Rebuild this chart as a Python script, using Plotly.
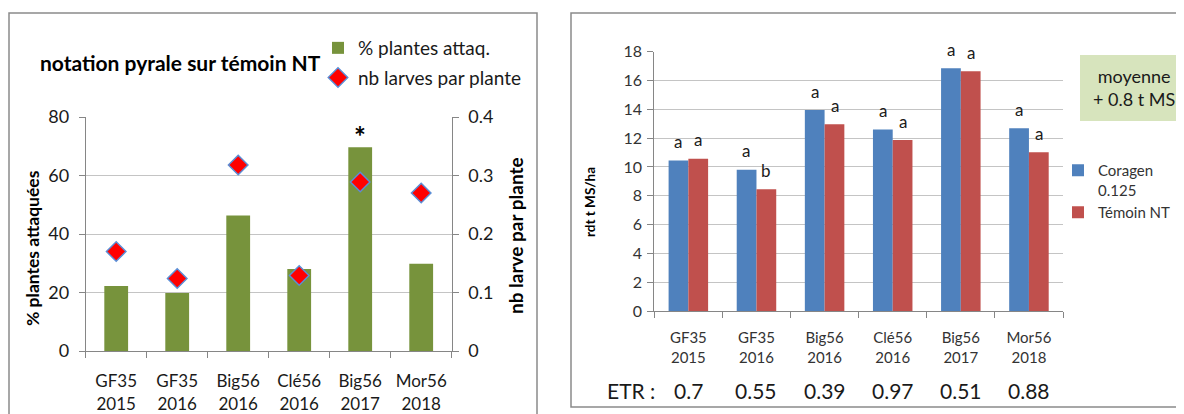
import plotly.graph_objects as go

# data
categories = ["GF35<br>2015", "GF35<br>2016", "Big56<br>2016", "Clé56<br>2016", "Big56<br>2017", "Mor56<br>2018"]
pct_attacked = [22.2, 19.8, 46.3, 28.0, 69.7, 29.8]
larvae_per_plant = [0.17, 0.124, 0.318, 0.129, 0.289, 0.27]
coragen = [10.45, 9.8, 13.95, 12.6, 16.85, 12.68]
temoin = [10.57, 8.45, 12.96, 11.87, 16.64, 11.02]
letters_coragen = ["a", "a", "a", "a", "a", "a"]
letters_temoin = ["a", "b", "a", "a", "a", "a"]
etr = ["0.7", "0.55", "0.39", "0.97", "0.51", "0.88"]

W, H = 1184, 414
FONT = "Lato"
OFF = 8  # the page body has an 8px margin, so place everything relative to the window


def px(x):
    return (x - OFF) / W


def py(y):
    return 1 - (y - OFF) / H


fig = go.Figure()

# left chart: % attacked plants (bars) + larvae per plant (diamonds)
fig.add_trace(go.Bar(x=categories, y=pct_attacked, name="% plantes attaq.",
                     marker=dict(color="#77933C", line=dict(width=0)), width=0.39,
                     xaxis="x", yaxis="y", legend="legend", legendgroup="g1"))
fig.add_trace(go.Scatter(x=categories, y=larvae_per_plant, name="nb larves par plante",
                         mode="markers",
                         marker=dict(symbol="diamond", size=15, color="#FF0000",
                                     line=dict(color="#5B8ED6", width=1.5)),
                         xaxis="x", yaxis="y2", legend="legend", legendgroup="g2"))

# right chart: yield
fig.add_trace(go.Bar(x=categories, y=coragen, name="Coragen<br>0.125",
                     marker=dict(color="#4F81BD", line=dict(width=0)), width=0.29, offset=-0.29,
                     xaxis="x2", yaxis="y3", legend="legend2", legendgroup="g3"))
fig.add_trace(go.Bar(x=categories, y=temoin, name="Témoin NT",
                     marker=dict(color="#C0504D", line=dict(width=0)), width=0.29, offset=0,
                     xaxis="x2", yaxis="y3", legend="legend2", legendgroup="g4"))

axis_col = "#868686"
grid_col = "#C4C4C4"


def note(**kw):
    d = dict(showarrow=False, xanchor="center", yanchor="middle")
    d.update(kw)
    return d


annotations = []
for i, cat in enumerate(categories):
    annotations.append(note(x=cat, y=coragen[i], xref="x2", yref="y3", text=letters_coragen[i],
                            xshift=-10, yshift=19, font=dict(size=17, color="#1a1a1a", family=FONT)))
    annotations.append(note(x=cat, y=temoin[i], xref="x2", yref="y3", text=letters_temoin[i],
                            xshift=10, yshift=19, font=dict(size=17, color="#1a1a1a", family=FONT)))
    annotations.append(note(x=cat, y=py(390), xref="x2", yref="paper", text=etr[i],
                            font=dict(size=21, color="#1a1a1a", family=FONT)))

annotations += [
    note(x=px(38), y=py(62), xref="paper", yref="paper", xanchor="left",
         text="<b>notation pyrale sur témoin NT</b>", font=dict(size=21, color="#000", family=FONT)),
    note(x=categories[4], y=pct_attacked[4], xref="x", yref="y", text="<b>*</b>",
         yshift=11, font=dict(size=28, color="#000", family=FONT)),
    note(x=px(32), y=py(248), xref="paper", yref="paper", text="<b>% plantes attaquées</b>", textangle=-90,
         font=dict(size=17.5, color="#000", family=FONT)),
    note(x=px(515), y=py(236), xref="paper", yref="paper", text="<b>nb larve par plante</b>", textangle=-90,
         font=dict(size=19, color="#000", family=FONT)),
    note(x=px(590), y=py(202), xref="paper", yref="paper", text="<b>rdt t MS/ha</b>", textangle=-90,
         font=dict(size=13.5, color="#000", family=FONT)),
    note(x=px(605), y=py(390), xref="paper", yref="paper", xanchor="left", text="ETR :",
         font=dict(size=21, color="#1a1a1a", family=FONT)),
    note(x=px(1134), y=py(88), xref="paper", yref="paper", text="moyenne<br>+ 0.8 t MS",
         font=dict(size=18, color="#1a1a1a", family=FONT)),
]

shapes = [
    dict(type="rect", xref="paper", yref="paper", x0=px(9), x1=px(537), y0=-0.2, y1=py(13),
         line=dict(color="#8A8A8A", width=1.5), fillcolor="rgba(0,0,0,0)", layer="below"),
    dict(type="rect", xref="paper", yref="paper", x0=px(571), x1=1.1, y0=py(407), y1=py(13),
         line=dict(color="#8A8A8A", width=1.5), fillcolor="rgba(0,0,0,0)", layer="below"),
    # green "moyenne" box, running off the right edge like the reference
    dict(type="rect", xref="paper", yref="paper", x0=px(1080), x1=px(1200), y0=py(121), y1=py(55),
         line=dict(width=0), fillcolor="#D7E4BD", layer="below"),
]

common_x = dict(type="category", showline=True, linecolor=axis_col, ticks="outside", tickson="boundaries",
                ticklen=6, tickcolor=axis_col, showgrid=False, fixedrange=True, automargin=False)
common_y = dict(showline=True, linecolor=axis_col, ticks="outside", ticklen=6, tickcolor=axis_col,
                zeroline=False, fixedrange=True, automargin=False)

fig.update_layout(
    width=W, height=H,
    margin=dict(l=0, r=0, t=0, b=0),
    paper_bgcolor="white", plot_bgcolor="white",
    font=dict(family=FONT, color="#1a1a1a"),
    barmode="overlay",
    xaxis=dict(domain=[px(85.7), px(451.7)], anchor="y", ticklabelstandoff=15,
               tickfont=dict(size=17, color="#1a1a1a"), **common_x),
    yaxis=dict(domain=[py(351), py(117)], range=[0, 80], dtick=20, anchor="x",
               showgrid=True, gridcolor=grid_col, ticklabelstandoff=6,
               tickfont=dict(size=18, color="#1a1a1a"), **common_y),
    yaxis2=dict(overlaying="y", side="right", range=[0, 0.4], dtick=0.1, anchor="x",
                showgrid=False, ticklabelstandoff=6,
                tickfont=dict(size=18, color="#1a1a1a"), **common_y),
    xaxis2=dict(domain=[px(654.3), px(1063)], anchor="y3", ticklabelstandoff=13,
                tickfont=dict(size=15, color="#333"), **common_x),
    yaxis3=dict(domain=[py(311), py(51.7)], range=[0, 18], dtick=2, anchor="x2",
                showgrid=True, gridcolor=grid_col, ticklabelstandoff=2,
                tickfont=dict(size=16, color="#333"), **common_y),
    legend=dict(x=px(318), y=py(29), xanchor="left", yanchor="top", bgcolor="rgba(0,0,0,0)",
                font=dict(size=19, family=FONT, color="#1a1a1a"), tracegroupgap=2,
                itemclick=False, itemdoubleclick=False),
    legend2=dict(x=px(1058), y=py(154), xanchor="left", yanchor="top", bgcolor="rgba(0,0,0,0)",
                 font=dict(size=15, family=FONT, color="#333"), tracegroupgap=0, valign="top",
                 itemclick=False, itemdoubleclick=False),
    annotations=annotations,
    shapes=shapes,
)

fig.write_html("out.html")
